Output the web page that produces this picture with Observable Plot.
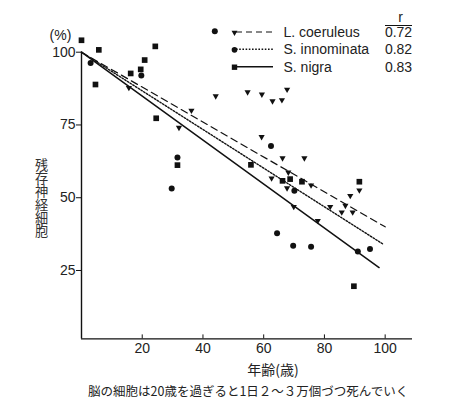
<!DOCTYPE html>
<html><head><meta charset="utf-8">
<script src="https://cdn.jsdelivr.net/npm/d3@7"></script>
<script src="https://cdn.jsdelivr.net/npm/@observablehq/plot@0.6"></script>
<style>
body{margin:0;background:#fff;}
#wrap{position:relative;width:470px;height:409px;background:#fff;}
#chart svg{overflow:visible;}
#caption{position:absolute;left:88px;top:385px;font-size:12.5px;font-family:"Noto Sans CJK JP",sans-serif;color:#222;white-space:nowrap;line-height:1;}
</style></head><body><div id="wrap"><div id="chart"></div><div id="caption"></div></div>
<script>
// ---- data ----
const seriesNames = ["L. coeruleus", "S. innominata", "S. nigra"];
const rValues = ["0.72", "0.82", "0.83"];
const rHeader = "r";

const coeruleusAge = [15.6, 32.1, 36.2, 44.2, 54.7, 59.4, 62.9, 66.0, 67.7, 59.3, 66.2, 73.4, 68.1, 62.6, 67.7, 75.6, 69.9, 77.8, 81.9, 85.7, 86.9, 88.5, 89.3, 91.5];
const coeruleusPct = [87.8, 74.1, 80.0, 84.9, 86.3, 85.5, 83.2, 83.6, 87.2, 70.9, 63.6, 63.6, 58.7, 56.7, 53.3, 54.3, 46.9, 42.1, 46.9, 45.0, 47.3, 50.7, 45.0, 52.6];

const innominataAge = [3.0, 19.7, 29.7, 31.6, 43.9, 62.4, 64.4, 69.7, 70.1, 75.6, 91.0, 95.0];
const innominataPct = [96.3, 92.0, 53.2, 63.8, 107.2, 67.8, 37.8, 33.5, 52.4, 33.2, 31.5, 32.4];

const nigraAge = [0.0, 5.7, 4.6, 16.2, 19.5, 20.8, 24.3, 24.6, 31.6, 55.8, 66.2, 68.7, 72.6, 91.5, 89.7];
const nigraPct = [104.1, 100.8, 88.9, 92.7, 94.1, 97.3, 102.0, 77.3, 61.2, 61.3, 55.8, 56.4, 55.5, 55.5, 19.6];

// regression lines (intercept, slope, age range)
const fitIntercept = [100, 100, 100];
const fitSlope = [-0.600, -0.664, -0.755];
const fitAgeMax = [100, 99.3, 98];

const xTicks = [20, 40, 60, 80, 100];
const yTicks = [25, 50, 75, 100];
const xDomain = [0, 109];
const yDomain = [1.5, 100];

const yLabel = "残存神経細胞";
const xLabel = "年齢(歳)";
const yUnit = "(%)";
const captionText = "脳の細胞は20歳を過ぎると1日２～３万個づつ死んでいく";

// ---- build tables ----
const ages = [coeruleusAge, innominataAge, nigraAge];
const pcts = [coeruleusPct, innominataPct, nigraPct];
const points = [];
seriesNames.forEach((s, i) => ages[i].forEach((a, j) => points.push({series: s, age: a, pct: pcts[i][j]})));
const fits = seriesNames.map((s, i) => [
  {series: s, age: 0, pct: fitIntercept[i]},
  {series: s, age: fitAgeMax[i], pct: fitIntercept[i] + fitSlope[i] * fitAgeMax[i]}
]);

// down-pointing triangle symbol
const triDown = {draw(ctx, size) {
  const s = Math.sqrt(size / (Math.sqrt(3) / 4));
  const h = s * Math.sqrt(3) / 2;
  ctx.moveTo(-s / 2, -h / 3); ctx.lineTo(s / 2, -h / 3); ctx.lineTo(0, 2 * h / 3); ctx.closePath();
}};
const symbols = [triDown, "circle", "square"];
const radii = [2.3, 3, 3.2];
const dashes = ["7,4.5", "1.6,1.6", null];
const widths = [1.2, 1.4, 1.5];

const ML = 81, MT = 51.7;
const legendX = 234, legendTextX = 283, legendRowY = [32, 49.3, 66.7], rX = 398;

const marks = [
  Plot.ruleX([0], {y1: yDomain[0], y2: yDomain[1], stroke: "#111", strokeWidth: 1.4}),
  Plot.ruleY([yDomain[0]], {x1: xDomain[0], x2: xDomain[1], stroke: "#111", strokeWidth: 1.4}),
  Plot.axisY({ticks: yTicks, tickSize: 5, tickPadding: 1, fontSize: 14, label: null, stroke: "#111", fill: "#222"}),
  Plot.axisX({ticks: xTicks, tickSize: 4, dy: -4, tickFormat: () => "", label: null, stroke: "#111"}),
  Plot.axisX({ticks: xTicks, tickSize: 0, tickPadding: 4, fontSize: 14, label: null, fill: "#222"}),
  ...fits.map((f, i) => Plot.line(f, {x: "age", y: "pct", stroke: "#111", strokeWidth: widths[i], strokeDasharray: dashes[i]})),
  ...seriesNames.map((s, i) => Plot.dot(points.filter(d => d.series === s), {x: "age", y: "pct", symbol: symbols[i], r: radii[i], fill: "#111", stroke: "none"})),
  // labels
  Plot.text([yUnit], {frameAnchor: "top-left", dx: 60 - ML, dy: 35.5 - MT, textAnchor: "middle", lineAnchor: "middle", fontSize: 14, fill: "#222"}),
  Plot.text([yLabel], {frameAnchor: "left", dx: -40, dy: 2.5, textAnchor: "middle", fontSize: 13.2, fontFamily: "Noto Sans CJK JP", fill: "#333", className: "ylab"}),
  Plot.text([xLabel], {frameAnchor: "bottom", dx: 26, dy: 31.6, textAnchor: "middle", lineAnchor: "middle", fontSize: 14, fontFamily: "Noto Sans CJK JP", fill: "#222"}),
  // legend
  ...seriesNames.map((s, i) => Plot.dot([s], {frameAnchor: "top-left", dx: legendX - ML, dy: legendRowY[i] - MT, symbol: symbols[i], r: radii[i] * 0.95, fill: "#111"})),
  ...seriesNames.map((s, i) => Plot.text([s], {frameAnchor: "top-left", dx: legendTextX - ML, dy: legendRowY[i] - MT, textAnchor: "start", lineAnchor: "middle", fontSize: 14, fill: "#222"})),
  ...rValues.map((r, i) => Plot.text([r], {frameAnchor: "top-left", dx: rX - ML, dy: legendRowY[i] - MT, textAnchor: "middle", lineAnchor: "middle", fontSize: 14, fill: "#222"})),
  Plot.text([rHeader], {frameAnchor: "top-left", dx: rX - ML + 2, dy: 17 - MT, textAnchor: "middle", lineAnchor: "middle", fontSize: 14, fill: "#222"})
];

const chart = Plot.plot({
  width: 470, height: 380,
  marginLeft: ML, marginRight: 58, marginTop: MT, marginBottom: 41.6,
  x: {domain: xDomain},
  y: {domain: yDomain},
  style: {fontFamily: "'Liberation Sans', 'Noto Sans CJK JP', sans-serif", fontSize: "14px", background: "white", overflow: "visible"},
  marks
});
document.getElementById("chart").appendChild(chart);

// vertical writing for the y label
d3.select(chart).selectAll(".ylab text")
  .attr("dy", null).attr("y", null)
  .style("writing-mode", "vertical-rl")
  .style("text-orientation", "upright");

// legend line samples and the rule under "r"
const svg = d3.select(chart);
legendRowY.forEach((y, i) => {
  svg.append("line").attr("x1", legendX + 2).attr("x2", 273).attr("y1", y).attr("y2", y)
    .attr("stroke", "#111").attr("stroke-width", widths[i]).attr("stroke-dasharray", dashes[i] ? (i === 0 ? "6,4" : dashes[i]) : null);
});
svg.append("line").attr("x1", 385).attr("x2", 412).attr("y1", 25.5).attr("y2", 25.5).attr("stroke", "#111").attr("stroke-width", 1);

document.getElementById("caption").textContent = captionText;
</script></body></html>
